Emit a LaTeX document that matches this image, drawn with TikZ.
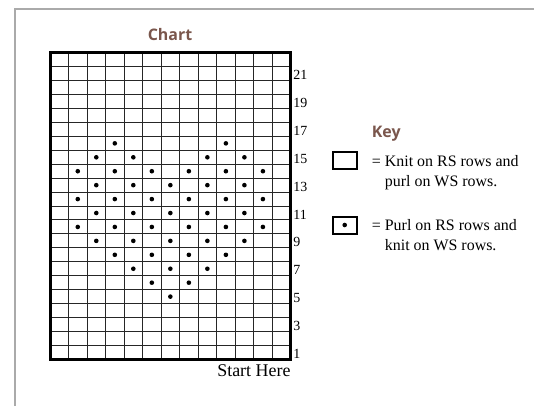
\documentclass[tikz,border=0pt]{standalone}
\usepackage{fontspec}
\setmainfont{Liberation Serif}
\newfontfamily\headfont{Open Sans}
\definecolor{framegray}{RGB}{170,170,170}
\definecolor{headbrown}{RGB}{122,86,76}
\begin{document}
\begin{tikzpicture}[x=1bp,y=-1bp,
  gridline/.style={line width=1bp, black!85},
  border/.style={line width=3bp, black},
  stitchdot/.style={circle, fill=black, inner sep=0pt, minimum size=4.6bp},
  heading/.style={font=\headfont\bfseries\fontsize{16}{19}\selectfont, text=headbrown, inner sep=0pt},
  rownum/.style={font=\fontsize{14}{16}\selectfont, inner sep=0pt, anchor=west},
  keytext/.style={font=\fontsize{16}{20}\selectfont, inner sep=0pt, anchor=base west},
  keybox/.style={draw, line width=2bp, minimum width=24bp, minimum height=17bp, inner sep=0pt}
]
\useasboundingbox (0,0) rectangle (534,406);
% frame
\draw[framegray, line width=2bp] (14.5,406) -- (14.5,9) -- (534,9);
% grid
\def\cw{18.515}
\def\rh{13.932}
\foreach \i in {1,...,12}
  \draw[gridline] ({50+\i*\cw},52.8) -- ({50+\i*\cw},359.3);
\foreach \j in {1,...,21}
  \draw[gridline] (50,{52.8+\j*\rh}) -- (290.7,{52.8+\j*\rh});
\draw[border] (50,52.8) rectangle (290.7,359.3);
% dots
\foreach \r/\cl in {5/{7},6/{6,8},7/{5,7,9},8/{4,6,8,10},9/{3,5,7,9,11},
    10/{2,4,6,8,10,12},11/{3,5,7,9,11},12/{2,4,6,8,10,12},13/{3,5,7,9,11},
    14/{2,4,6,8,10,12},15/{3,5,9,11},16/{4,10}}{
  \foreach \c in \cl
    \node[stitchdot] (d\r-\c) at ({50+(\c-0.5)*\cw},{359.3-(\r-0.5)*\rh}) {};
}
% row numbers
\foreach \r in {1,3,...,21}
  \node[rownum] (n\r) at (293.2,{359.3-(\r-0.5)*\rh+1.5}) {\r};
% titles
\node[heading, anchor=base] (title) at (170,40.7) {Chart};
\node[heading, anchor=base west] (keytitle) at (371.7,137.3) {Key};
\node[font=\fontsize{18}{20}\selectfont, inner sep=0pt, anchor=base east] (start) at (290.7,376) {Start Here};
% key
\node[keybox] (k1) at (344.7,160.8) {};
\node[keybox] (k2) at (344.7,225) {};
\node[stitchdot] (k2dot) at (k2.center) {};
\node[keytext] (k1a) at (371.7,166) {= Knit on RS rows and};
\node[keytext] (k1b) at (371.7,186) {\phantom{= }purl on WS rows.};
\node[keytext] (k2a) at (371.7,230) {= Purl on RS rows and};
\node[keytext] (k2b) at (371.7,250) {\phantom{= }knit on WS rows.};
\end{tikzpicture}
\end{document}
